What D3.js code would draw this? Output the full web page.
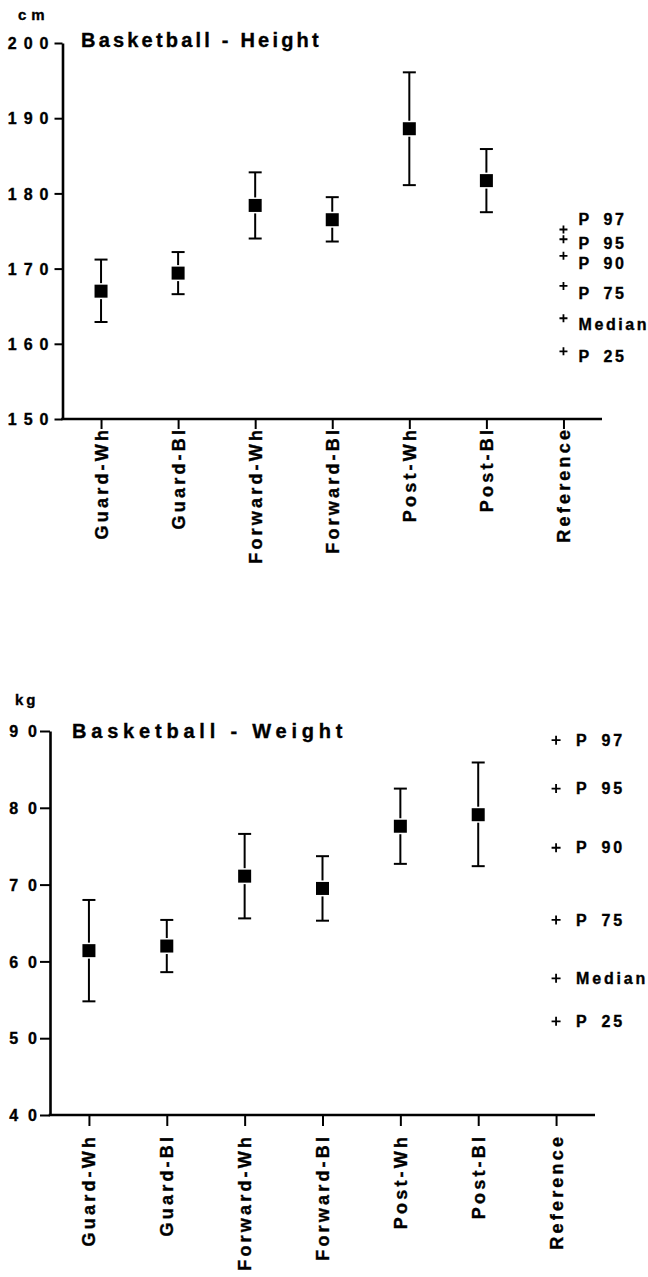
<!DOCTYPE html>
<html>
<head>
<meta charset="utf-8">
<script src="https://cdn.jsdelivr.net/npm/d3@7"></script>
<style>
  html, body { margin: 0; padding: 0; background: #fff; }
  svg { display: block; }
  text { font-family: "Liberation Sans", Arial, Helvetica, sans-serif; font-weight: bold; fill: #000; stroke: #000; stroke-width: 0.35px; }
</style>
</head>
<body>
<svg id="chart" width="648" height="1277"></svg>
<script>
// ---------- DATA ----------
const categories = ["Guard-Wh", "Guard-Bl", "Forward-Wh", "Forward-Bl", "Post-Wh", "Post-Bl", "Reference"];
const groups = ["Guard-Wh", "Guard-Bl", "Forward-Wh", "Forward-Bl", "Post-Wh", "Post-Bl"];

const heightMean  = [167.0, 169.4, 178.4, 176.5, 188.6, 181.7];
const heightUpper = [171.2, 172.2, 182.8, 179.5, 196.1, 185.9];
const heightLower = [162.9, 166.6, 174.0, 173.6, 181.1, 177.5];
const heightTicks = [150, 160, 170, 180, 190, 200];

const weightMean  = [61.4, 62.0, 71.1, 69.5, 77.6, 79.1];
const weightUpper = [68.0, 65.4, 76.6, 73.7, 82.5, 85.9];
const weightLower = [54.8, 58.6, 65.6, 65.3, 72.7, 72.4];
const weightTicks = [40, 50, 60, 70, 80, 90];

const refLabels = ["P 97", "P 95", "P 90", "P 75", "Median", "P 25"];
const heightRef = [175.2, 173.9, 171.7, 167.7, 163.4, 159.0];
const heightRefLabelAt = [176.5, 173.4, 170.7, 166.7, 162.6, 158.3];
const weightRef = [88.8, 82.5, 74.8, 65.4, 57.8, 52.2];
const weightRefLabelAt = [88.8, 82.5, 74.8, 65.4, 57.8, 52.2];

// ---------- DRAW ----------
const svg = d3.select("#chart");

function panel(cfg) {
  const g = svg.append("g");
  const x = d3.scalePoint().domain(categories).range([cfg.left, cfg.right]).padding(0.5);
  const y = d3.scaleLinear().domain(d3.extent(cfg.ticks)).range([cfg.bottom, cfg.top]);

  // y axis
  const ya = g.append("g").attr("transform", `translate(${cfg.left},0)`)
    .call(d3.axisLeft(y).tickValues(cfg.ticks).tickSize(cfg.yTick).tickSizeOuter(0).tickPadding(cfg.yPad).tickFormat(d => String(d)));
  ya.select(".domain").attr("stroke", "#000").attr("stroke-width", 2.6);
  ya.selectAll(".tick line").attr("stroke", "#000").attr("stroke-width", 2);
  ya.selectAll(".tick text")
    .attr("font-size", cfg.tickFont).attr("letter-spacing", cfg.tickSpacing)
    .attr("dx", cfg.tickSpacing).attr("dy", "0.36em")
    .style("font-family", "'Liberation Sans', Arial, sans-serif").style("font-weight", "bold")
    .attr("fill", "#000").attr("stroke", "#000").attr("stroke-width", 0.35);

  // x axis
  const xa = g.append("g").attr("transform", `translate(0,${cfg.bottom})`)
    .call(d3.axisBottom(x).tickSize(cfg.xTick).tickSizeOuter(0).tickFormat(""));
  xa.select(".domain").attr("stroke", "#000").attr("stroke-width", 2.6)
    .attr("d", `M${cfg.left - 1.3},0H${cfg.right}`);
  xa.selectAll(".tick line").attr("stroke", "#000").attr("stroke-width", 2);

  // rotated category labels
  g.selectAll("text.cat").data(categories).join("text")
    .attr("class", "cat")
    .attr("transform", d => `translate(${x(d) + cfg.catFont * 0.36},${cfg.catTop}) rotate(-90)`)
    .attr("text-anchor", "end")
    .attr("font-size", cfg.catFont)
    .attr("letter-spacing", cfg.catSpacing)
    .attr("dx", cfg.catSpacing)
    .text(d => d);

  // error bars
  const cap = 6.5;
  const rows = groups.map((c, i) => ({ c, m: cfg.mean[i], u: cfg.upper[i], l: cfg.lower[i] }));
  const eb = g.selectAll("g.eb").data(rows).join("g").attr("class", "eb");
  eb.append("line").attr("x1", d => x(d.c)).attr("x2", d => x(d.c))
    .attr("y1", d => y(d.u)).attr("y2", d => y(d.l)).attr("stroke", "#000").attr("stroke-width", 2);
  eb.append("line").attr("x1", d => x(d.c) - cap).attr("x2", d => x(d.c) + cap)
    .attr("y1", d => y(d.u)).attr("y2", d => y(d.u)).attr("stroke", "#000").attr("stroke-width", 2);
  eb.append("line").attr("x1", d => x(d.c) - cap).attr("x2", d => x(d.c) + cap)
    .attr("y1", d => y(d.l)).attr("y2", d => y(d.l)).attr("stroke", "#000").attr("stroke-width", 2);
  const s = 13;
  eb.append("rect").attr("x", d => x(d.c) - s / 2).attr("y", d => y(d.m) - s / 2)
    .attr("width", s).attr("height", s).attr("fill", "#000")
    .attr("stroke", "#fff").attr("stroke-width", 3).attr("paint-order", "stroke");

  // reference percentiles
  const rx = x("Reference");
  const pr = cfg.plus;
  g.selectAll("path.ref").data(cfg.ref).join("path").attr("class", "ref")
    .attr("d", d => `M${rx - pr},${y(d)}H${rx + pr}M${rx},${y(d) - pr}V${y(d) + pr}`)
    .attr("stroke", "#000").attr("stroke-width", 1.8);
  g.selectAll("text.refl").data(refLabels).join("text").attr("class", "refl")
    .attr("x", rx + cfg.refDx)
    .attr("y", (d, i) => y(cfg.refLabelAt[i]))
    .attr("dy", "0.36em")
    .attr("font-size", cfg.refFont)
    .attr("letter-spacing", cfg.refSpacing)
    .attr("word-spacing", 5)
    .text(d => d);

  // title & unit
  g.append("text").attr("x", cfg.titleX).attr("y", cfg.titleY)
    .attr("font-size", cfg.titleFont).attr("letter-spacing", cfg.titleSpacing).text(cfg.title);
  g.append("text").attr("x", cfg.unitX).attr("y", cfg.unitY)
    .attr("font-size", 15).attr("letter-spacing", cfg.unitSpacing).text(cfg.unit);
}

panel({
  left: 62.5, right: 602, top: 43, bottom: 419,
  ticks: heightTicks, mean: heightMean, upper: heightUpper, lower: heightLower,
  ref: heightRef, refLabelAt: heightRefLabelAt,
  yTick: 8, yPad: 6, xTick: 10, tickFont: 16, tickSpacing: 7,
  catFont: 18, catSpacing: 3.2, catTop: 430,
  plus: 4, refDx: 15, refFont: 16, refSpacing: 2.6,
  title: "Basketball - Height", titleX: 81, titleY: 47, titleFont: 20, titleSpacing: 3.2,
  unit: "cm", unitX: 18, unitY: 20, unitSpacing: 5
});

panel({
  left: 50, right: 595, top: 731, bottom: 1115,
  ticks: weightTicks, mean: weightMean, upper: weightUpper, lower: weightLower,
  ref: weightRef, refLabelAt: weightRefLabelAt,
  yTick: 10, yPad: 3, xTick: 11, tickFont: 16, tickSpacing: 10,
  catFont: 18, catSpacing: 3.2, catTop: 1137,
  plus: 4.5, refDx: 20, refFont: 16, refSpacing: 2.8,
  title: "Basketball - Weight", titleX: 72, titleY: 738, titleFont: 20, titleSpacing: 4.8,
  unit: "kg", unitX: 15, unitY: 705, unitSpacing: 3
});
</script>
</body>
</html>
